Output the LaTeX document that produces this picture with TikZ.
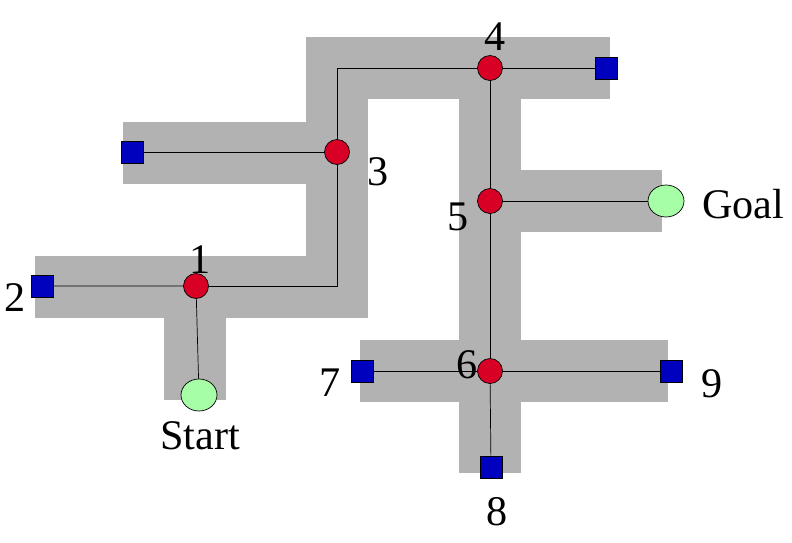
\documentclass[tikz,border=0pt]{standalone}
\usepackage{fontspec}
\setmainfont{Liberation Serif}
\usetikzlibrary{shapes.geometric}
\begin{document}
\begin{tikzpicture}[x=0.02cm, y=-0.02cm,
    hall/.style={line width=1.24cm, gray!60, line cap=butt, line join=miter},
    junction/.style={circle, draw, fill=red!85!blue, minimum size=0.5cm, inner sep=0pt},
    deadend/.style={rectangle, draw, fill=blue!75!black, minimum size=0.44cm, inner sep=0pt},
    target/.style={ellipse, draw, fill=green!35, minimum width=0.72cm, minimum height=0.64cm, inner sep=0pt},
    lbl/.style={font=\fontsize{24}{24}\selectfont}]
    \useasboundingbox (0,0) rectangle (792,542);
    % corridors
    \draw [hall] (35,287) -- (337,287) -- (337,68) -- (610,68);
    \draw [hall] (195,400) -- (195,287);
    \draw [hall] (123,153) -- (337,153);
    \draw [hall] (490,68) -- (490,473);
    \draw [hall] (490,201) -- (662,201);
    \draw [hall] (360,371) -- (668,371);

    \node (n1) [junction] at (196,286) {};
    \node (n3) [junction] at (337,152) {};
    \node (n4) [junction] at (490,68) {};
    \node (n5) [junction] at (490,201) {};
    \node (n6) [junction] at (490,371) {};
    \node (n2) [deadend] at (42,286) {};
    \node (d3) [deadend] at (132,152) {};
    \node (d4) [deadend] at (606,68) {};
    \node (n7) [deadend] at (362,371) {};
    \node (n9) [deadend] at (671,371) {};
    \node (n8) [deadend] at (491,467) {};
    \node (start) [target] at (199,395) {};
    \node (goal) [target] at (666,201) {};
    \coordinate (c1) at (337,286);
    \coordinate (c2) at (337,68);

    \draw (n2) -- (n1) -- (start);
    \draw (n1) -- (c1) -- (n3) -- (d3);
    \draw (n3) -- (c2) -- (n4) -- (d4);
    \draw (n4) -- (n5) -- (goal);
    \draw (n5) -- (n6) -- (n7);
    \draw (n6) -- (n9);
    \draw (n6) -- (n8);

    \node (l1) [lbl] at (200,260) {1};
    \node (l2) [lbl] at (15,298) {2};
    \node (l3) [lbl] at (378,172) {3};
    \node (l4) [lbl] at (495,37) {4};
    \node (l5) [lbl] at (458,217) {5};
    \node (l6) [lbl] at (467,365) {6};
    \node (l7) [lbl] at (330,383) {7};
    \node (l8) [lbl] at (497,512) {8};
    \node (l9) [lbl] at (712,384) {9};
    \node (ls) [lbl] at (200,436) {Start};
    \node (lg) [lbl] at (743,204) {Goal};
\end{tikzpicture}
\end{document}
